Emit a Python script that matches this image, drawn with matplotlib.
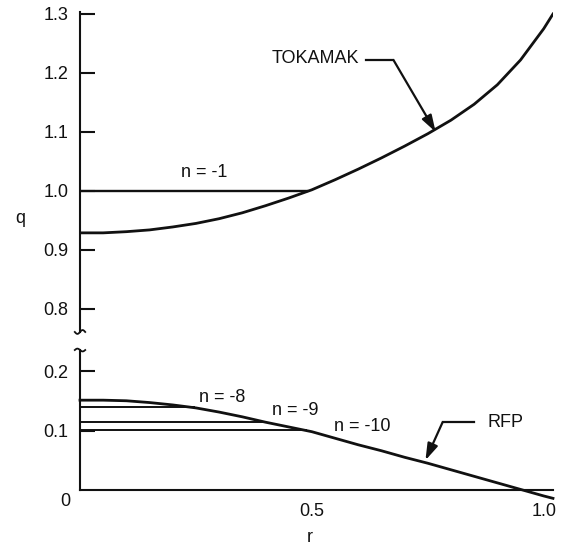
import numpy as np
import matplotlib
matplotlib.use("Agg")
import matplotlib.pyplot as plt

plt.rcParams['font.family'] = ['Liberation Sans', 'DejaVu Sans']

# q profiles
r_tok = [0, 0.05, 0.1, 0.15, 0.2, 0.25, 0.3, 0.35, 0.4, 0.45, 0.5, 0.55,
         0.6, 0.65, 0.7, 0.75, 0.8, 0.85, 0.9, 0.95, 1.0, 1.02]
q_tok = [0.929, 0.929, 0.931, 0.934, 0.939, 0.945, 0.953, 0.963, 0.975, 0.988,
         1.002, 1.019, 1.037, 1.056, 1.076, 1.097, 1.120, 1.147, 1.180, 1.222,
         1.275, 1.300]

r_rfp = [0, 0.05, 0.1, 0.15, 0.2, 0.25, 0.3, 0.35, 0.4, 0.45, 0.5, 0.55,
         0.6, 0.65, 0.7, 0.75, 0.8, 0.85, 0.9, 0.95, 1.0, 1.02]
q_rfp = [0.151, 0.151, 0.150, 0.147, 0.143, 0.138, 0.131, 0.123, 0.114, 0.106,
         0.098, 0.087, 0.076, 0.066, 0.055, 0.045, 0.034, 0.023, 0.012, 0.001,
         -0.010, -0.014]

# resonant surfaces: (label, q value, r where line meets the curve)
tok_modes = [("n = -1", 1.0, 0.49)]
rfp_modes = [("n = -8", 0.139, 0.245), ("n = -9", 0.114, 0.40), ("n = -10", 0.101, 0.487)]

top_ticks = [0.8, 0.9, 1.0, 1.1, 1.2, 1.3]
bot_ticks = [0.1, 0.2]
x_ticks = [0.5, 1.0]

ink = "#111111"
fs = 13

fig = plt.figure(figsize=(5.63, 5.47), dpi=100)
ax1 = fig.add_axes([0.1421, 0.3931, 0.8401, 0.5850])
ax2 = fig.add_axes([0.1421, 0.1042, 0.8401, 0.2559])

for ax in (ax1, ax2):
    for s in ("top", "right"):
        ax.spines[s].set_visible(False)
    ax.spines["left"].set_linewidth(1.5)
    ax.spines["left"].set_color(ink)
    ax.set_xlim(0, 1.02)
    ax.tick_params(axis="y", direction="in", length=10.5, width=1.5,
                   labelsize=fs, pad=8.5, colors=ink)

ax1.spines["bottom"].set_visible(False)
ax1.set_ylim(0.761, 1.3034)
ax1.set_yticks(top_ticks)
ax1.set_yticklabels([f"{t:.1f}" for t in top_ticks])
ax1.set_xticks([])

ax2.set_ylim(0, 0.2353)
ax2.spines["bottom"].set_linewidth(1.5)
ax2.spines["bottom"].set_color(ink)
ax2.set_yticks(bot_ticks)
ax2.set_yticklabels([f"{t:.1f}" for t in bot_ticks])
ax2.set_xticks(x_ticks)
ax2.set_xticklabels([f"{t:.1f}" for t in x_ticks])
ax2.tick_params(axis="x", length=0, labelsize=fs, pad=9, colors=ink)
ax2.annotate("0", xy=(0, 0), xytext=(-7, -8), textcoords="offset points",
             ha="right", va="center", fontsize=fs, color=ink)

# curves
ax1.plot(r_tok, q_tok, color=ink, lw=2.0, solid_joinstyle="round")
ax2.plot(r_rfp, q_rfp, color=ink, lw=2.0, clip_on=False, solid_joinstyle="round")

for lab, qv, rend in tok_modes:
    ax1.plot([0, rend], [qv, qv], color=ink, lw=1.7)
ax1.text(0.268, 1.032, "n = -1", ha="center", va="center", fontsize=fs, color=ink)

for lab, qv, rend in rfp_modes:
    ax2.plot([0, rend], [qv, qv], color=ink, lw=1.4)
ax2.text(0.307, 0.156, "n = -8", ha="center", va="center", fontsize=fs, color=ink)
ax2.text(0.464, 0.134, "n = -9", ha="center", va="center", fontsize=fs, color=ink)
ax2.text(0.609, 0.106, "n = -10", ha="center", va="center", fontsize=fs, color=ink)

# labels with bent arrows
arrow = dict(arrowstyle="-|>,head_length=1.0,head_width=0.32",
             color=ink, lw=1.6, shrinkA=0, shrinkB=0)
ax1.text(0.603, 1.225, "TOKAMAK", ha="right", va="center", fontsize=fs, color=ink)
ax1.plot([0.616, 0.676], [1.222, 1.222], color=ink, lw=1.6)
ax1.annotate("", xy=(0.767, 1.10), xytext=(0.676, 1.222), arrowprops=arrow)

ax2.text(0.879, 0.114, "RFP", ha="left", va="center", fontsize=fs, color=ink)
ax2.plot([0.849, 0.782], [0.114, 0.114], color=ink, lw=1.6)
ax2.annotate("", xy=(0.745, 0.050), xytext=(0.782, 0.114), arrowprops=arrow)

# axis break squiggles
t = np.linspace(0, 1, 30)
ax1.plot(-0.011 + 0.022 * t, -0.006 * np.sin(np.pi * 2 * t), color=ink,
         lw=1.3, transform=ax1.transAxes, clip_on=False)
ax2.plot(-0.011 + 0.022 * t, 1.0 + 0.01 * np.sin(np.pi * 2 * t), color=ink,
         lw=1.3, transform=ax2.transAxes, clip_on=False)

fig.text(310 / 563, 1 - 537 / 547, "r", ha="center", va="center", fontsize=fs, color=ink)
fig.text(20 / 563, 1 - 218 / 547, "q", ha="center", va="center", fontsize=fs, color=ink)

fig.savefig("out.png", dpi=100, facecolor="white")
